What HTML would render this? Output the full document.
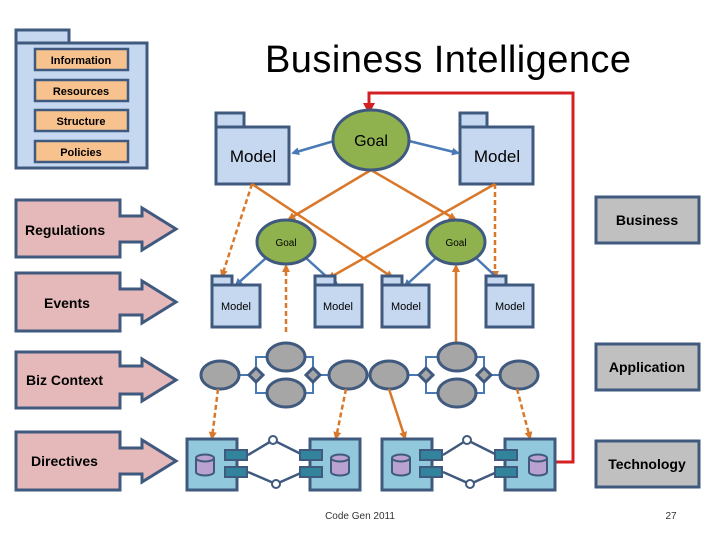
<!DOCTYPE html>
<html><head><meta charset="utf-8"><style>
html,body{margin:0;padding:0;background:#fff}
svg{display:block}
text{font-family:"Liberation Sans",sans-serif}
</style></head><body>
<svg width="720" height="540" viewBox="0 0 720 540" xmlns="http://www.w3.org/2000/svg">
<defs>
<marker id="ao" markerWidth="8" markerHeight="8" refX="6" refY="4" orient="auto" markerUnits="userSpaceOnUse"><path d="M0,0 L8,4 L0,8 Z" fill="#d9782a"/></marker>
<marker id="ab" markerWidth="8" markerHeight="8" refX="6" refY="4" orient="auto" markerUnits="userSpaceOnUse"><path d="M0,0 L8,4 L0,8 Z" fill="#4a7ab5"/></marker>
</defs>
<text x="448" y="72" font-size="38" text-anchor="middle" fill="#000" textLength="366">Business Intelligence</text>

<g stroke="#3f5a7e" stroke-width="3" fill="#c5d8f0">
<rect x="16" y="30" width="53" height="13"/>
<rect x="16" y="43" width="131" height="125"/>
</g>
<g stroke="#3f5a7e" stroke-width="2.5" fill="#f8c28f">
<rect x="35" y="49" width="93" height="21"/>
<rect x="35" y="80" width="93" height="21"/>
<rect x="35" y="110" width="93" height="21"/>
<rect x="35" y="141" width="93" height="21"/>
</g>
<g font-size="11" font-weight="bold" text-anchor="middle" fill="#000">
<text x="81" y="64">Information</text><text x="81" y="95">Resources</text>
<text x="81" y="125">Structure</text><text x="81" y="156">Policies</text>
</g>

<g stroke="#3f5a7e" stroke-width="3" fill="#e5b9b9">
<path d="M16 200H120V216H142V208L176 229L142 250V242H120V257H16Z"/>
<path d="M16 273H120V289H142V281L176 302L142 323V315H120V331H16Z"/>
<path d="M16 352H120V366H142V359L176 380L142 401V394H120V408H16Z"/>
<path d="M16 432H120V448H142V440L176 461L142 482V474H120V490H16Z"/>
</g>
<g font-size="14" font-weight="bold" fill="#000">
<text x="25" y="235">Regulations</text><text x="44" y="308">Events</text>
<text x="26" y="385">Biz Context</text><text x="31" y="466">Directives</text>
</g>

<g stroke="#3f5a7e" stroke-width="3" fill="#c0c0c0">
<rect x="596" y="197" width="103" height="46"/>
<rect x="596" y="344" width="103" height="46"/>
<rect x="596" y="441" width="103" height="46"/>
</g>
<g font-size="14" font-weight="bold" text-anchor="middle" fill="#000">
<text x="647" y="225">Business</text><text x="647" y="372">Application</text><text x="647" y="469">Technology</text>
</g>

<path d="M556 462H573V93H369V108" fill="none" stroke="#d42020" stroke-width="3"/>
<path d="M363 103L375 103L369 114Z" fill="#d42020"/>

<g stroke="#3f5a7e" stroke-width="3" fill="#c5d8f0">
<rect x="216" y="113" width="28" height="14"/><rect x="216" y="127" width="73" height="57"/>
<rect x="460" y="113" width="27" height="14"/><rect x="460" y="127" width="73" height="57"/>
</g>
<g font-size="17" text-anchor="middle" fill="#000"><text x="253" y="162">Model</text><text x="497" y="162">Model</text></g>

<g stroke="#d9782a" stroke-width="2.5" fill="none">
<line x1="252" y1="184" x2="222" y2="276" stroke-dasharray="5,3" marker-end="url(#ao)"/>
<line x1="252" y1="184" x2="392" y2="277" marker-end="url(#ao)"/>
<line x1="371" y1="170" x2="289" y2="219" marker-end="url(#ao)"/>
<line x1="371" y1="170" x2="455" y2="219" marker-end="url(#ao)"/>
<line x1="495" y1="184" x2="329" y2="278" marker-end="url(#ao)"/>
<line x1="495" y1="184" x2="495" y2="277" stroke-dasharray="5,3" marker-end="url(#ao)"/>
<line x1="286" y1="332" x2="286" y2="266" stroke-dasharray="5,3" marker-end="url(#ao)"/>
<line x1="456" y1="343" x2="456" y2="266" marker-end="url(#ao)"/>
</g>
<g stroke="#4a7ab5" stroke-width="2.5" fill="none">
<line x1="334" y1="141" x2="293" y2="153" marker-end="url(#ab)"/>
<line x1="409" y1="141" x2="458" y2="153" marker-end="url(#ab)"/>
<line x1="266" y1="258" x2="236" y2="285" marker-end="url(#ab)"/>
<line x1="306" y1="258" x2="338" y2="287" marker-end="url(#ab)"/>
<line x1="436" y1="258" x2="405" y2="286" marker-end="url(#ab)"/>
<line x1="476" y1="258" x2="507" y2="287" marker-end="url(#ab)"/>
</g>

<g stroke="#3f5a7e" stroke-width="3" fill="#8fb24f">
<ellipse cx="371" cy="140" rx="38" ry="30"/>
<ellipse cx="286" cy="242" rx="29" ry="22"/>
<ellipse cx="456" cy="242" rx="29" ry="22"/>
</g>
<g text-anchor="middle" fill="#000"><text x="371" y="146" font-size="16">Goal</text>
<text x="286" y="246" font-size="10">Goal</text><text x="456" y="246" font-size="10">Goal</text></g>

<g stroke="#3f5a7e" stroke-width="3" fill="#c5d8f0">
<rect x="212" y="276" width="20" height="9"/><rect x="212" y="285" width="48" height="42"/>
<rect x="315" y="276" width="20" height="9"/><rect x="315" y="285" width="47" height="42"/>
<rect x="382" y="276" width="20" height="9"/><rect x="382" y="285" width="47" height="42"/>
<rect x="486" y="276" width="20" height="9"/><rect x="486" y="285" width="47" height="42"/>
</g>
<g font-size="11" text-anchor="middle" fill="#000">
<text x="236" y="310">Model</text><text x="338" y="310">Model</text><text x="406" y="310">Model</text><text x="510" y="310">Model</text>
</g>

<g stroke="#4a7ab5" stroke-width="2" fill="none">
<path d="M239 375H249"/>
<path d="M256 368V357H267M256 382V393H267M305 357H313V368M305 393H313V382M320 375H329"/>
<path d="M408 375H419"/>
<path d="M426 368V357H438M426 382V393H438M476 357H484V368M476 393H484V382M491 375H500"/>
</g>
<g stroke="#3f5a7e" stroke-width="3" fill="#a6a6a6">
<ellipse cx="220" cy="375" rx="19" ry="14"/><ellipse cx="286" cy="357" rx="19" ry="14"/>
<ellipse cx="286" cy="393" rx="19" ry="14"/><ellipse cx="348" cy="375" rx="19" ry="14"/>
<ellipse cx="389" cy="375" rx="19" ry="14"/><ellipse cx="457" cy="357" rx="19" ry="14"/>
<ellipse cx="457" cy="393" rx="19" ry="14"/><ellipse cx="519" cy="375" rx="19" ry="14"/>
<path d="M256 368L263 375L256 382L249 375Z"/><path d="M313 368L320 375L313 382L306 375Z"/>
<path d="M426 368L433 375L426 382L419 375Z"/><path d="M484 368L491 375L484 382L477 375Z"/>
</g>
<g stroke="#d9782a" stroke-width="2.5" fill="none">
<line x1="218" y1="389" x2="212" y2="438" stroke-dasharray="5,3" marker-end="url(#ao)"/>
<line x1="346" y1="389" x2="336" y2="438" stroke-dasharray="5,3" marker-end="url(#ao)"/>
<line x1="389" y1="389" x2="405" y2="438" marker-end="url(#ao)"/>
<line x1="517" y1="389" x2="530" y2="438" stroke-dasharray="5,3" marker-end="url(#ao)"/>
</g>

<g stroke="#3f5a7e" stroke-width="2.5" fill="none">
<path d="M248 455L273 440L303 455M248 472L276 484L303 472"/>
<path d="M443 455L467 440L497 455M443 472L470 484L497 472"/>
</g>
<g stroke="#3f5a7e" stroke-width="2" fill="#fff">
<circle cx="273" cy="440" r="4"/><circle cx="276" cy="484" r="4"/>
<circle cx="467" cy="440" r="4"/><circle cx="470" cy="484" r="4"/>
</g>
<g stroke="#3f5a7e" stroke-width="3" fill="#92c8dc">
<rect x="187" y="439" width="50" height="51"/><rect x="310" y="439" width="50" height="51"/>
<rect x="382" y="439" width="50" height="51"/><rect x="505" y="439" width="50" height="51"/>
</g>
<g stroke="#3f5a7e" stroke-width="2" fill="#31849b">
<rect x="225" y="450" width="22" height="10"/><rect x="225" y="467" width="22" height="10"/>
<rect x="300" y="450" width="22" height="10"/><rect x="300" y="467" width="22" height="10"/>
<rect x="420" y="450" width="22" height="10"/><rect x="420" y="467" width="22" height="10"/>
<rect x="495" y="450" width="22" height="10"/><rect x="495" y="467" width="22" height="10"/>
</g>
<g stroke="#3f5a7e" stroke-width="2" fill="#b9a2d0">
<path d="M196 458V472A9 3.5 0 0 0 214 472V458"/><ellipse cx="205" cy="458" rx="9" ry="3.5"/>
<path d="M331 458V472A9 3.5 0 0 0 349 472V458"/><ellipse cx="340" cy="458" rx="9" ry="3.5"/>
<path d="M392 458V472A9 3.5 0 0 0 410 472V458"/><ellipse cx="401" cy="458" rx="9" ry="3.5"/>
<path d="M529 458V472A9 3.5 0 0 0 547 472V458"/><ellipse cx="538" cy="458" rx="9" ry="3.5"/>
</g>

<text x="360" y="519" font-size="10" text-anchor="middle" fill="#333">Code Gen 2011</text>
<text x="671" y="519" font-size="10" text-anchor="middle" fill="#333">27</text>
</svg>
</body></html>
